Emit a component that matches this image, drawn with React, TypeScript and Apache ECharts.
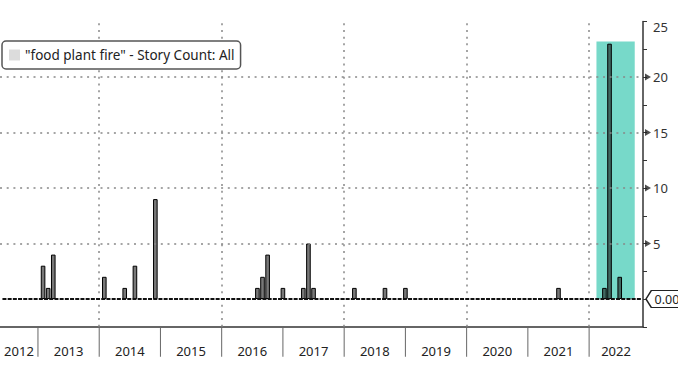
import React, { useEffect, useRef } from "react";
import * as echarts from "echarts";

const SERIES_NAME = '"food plant fire" - Story Count: All';

// Monthly story counts; each bar sits at the end of its month.
const barYears = [2013, 2013, 2013, 2014, 2014, 2014, 2014, 2016, 2016, 2016, 2016, 2017, 2017, 2017, 2018, 2018, 2018, 2021, 2022, 2022, 2022];
const barMonths = [1, 2, 3, 1, 5, 7, 11, 7, 8, 9, 12, 4, 5, 6, 2, 8, 12, 6, 3, 4, 6];
const barCounts = [3, 1, 4, 2, 1, 3, 9, 1, 2, 4, 1, 1, 5, 1, 1, 1, 1, 1, 1, 23, 2];

const yearLabels = [2012, 2013, 2014, 2015, 2016, 2017, 2018, 2019, 2020, 2021, 2022];
const verticalGridYears = [2014, 2016, 2018, 2020, 2022];
const horizontalGridValues = [5, 10, 15, 20];
const arrowTickValues = [5, 10, 15, 20];

const X_MIN = 2012.38;
const X_MAX = 2022.88;
const Y_MIN = -2.5;
const Y_MAX = 25;
const Y_INTERVAL = 2.5;

const zeroLineStart = 2012.42;
const zeroLineEnd = 2022.86;
const highlightStart = 2022.12;
const highlightEnd = 2022.745;
const highlightTop = 23.2;
const lastValue = 0;

const FONT = "'Noto Sans', 'DejaVu Sans', sans-serif";

export default function App() {
  const ref = useRef<HTMLDivElement>(null);

  useEffect(() => {
    if (!ref.current) return;
    const chart = echarts.init(ref.current, undefined, { renderer: "svg" });

    const barData = barYears.map((y, i) => [y + barMonths[i] / 12, barCounts[i]]);

    const option: any = {
      animation: false,
      backgroundColor: "#fff",
      grid: { left: 0, right: 35, top: 21.5, bottom: 54.25, containLabel: false },
      legend: {
        left: 2,
        top: 41,
        z: 20,
        zlevel: 0,
        data: [{ name: SERIES_NAME, icon: "rect", itemStyle: { color: "#dcdcdc", borderWidth: 0 } }],
        itemWidth: 11,
        itemHeight: 11,
        padding: [7, 6, 7, 7],
        borderColor: "#555",
        borderWidth: 1.5,
        borderRadius: 4,
        backgroundColor: "#fff",
        selectedMode: false,
        textStyle: { color: "#222", fontSize: 13.5, fontFamily: FONT },
      },
      xAxis: {
        type: "value",
        min: X_MIN,
        max: X_MAX,
        position: "bottom",
        axisLine: { show: true, onZero: false, lineStyle: { color: "#333", width: 1.5 } },
        axisTick: { show: false },
        axisLabel: { show: false },
        splitLine: { show: false },
      },
      yAxis: {
        type: "value",
        position: "right",
        min: Y_MIN,
        max: Y_MAX,
        interval: Y_INTERVAL,
        axisLine: { show: true, onZero: false, lineStyle: { color: "#333", width: 1.5 } },
        axisTick: { show: true, length: 4, lineStyle: { color: "#333", width: 1 } },
        splitLine: { show: false },
        axisLabel: {
          margin: 10,
          color: "#333",
          fontSize: 13,
          fontFamily: FONT,
          formatter: (v: number) => {
            if (v === Y_MAX) return "{top|" + v + "}";
            return v > 0 && v % 5 === 0 ? String(v) : "";
          },
          rich: { top: { padding: [11, 0, 0, 0], fontSize: 13, fontFamily: FONT, color: "#333" } },
        },
      },
      series: [
        {
          type: "line",
          data: [],
          z: 1,
          silent: true,
          markArea: {
            silent: true,
            itemStyle: { color: "#77d9c9", opacity: 1 },
            data: [[{ coord: [highlightStart, 0] }, { coord: [highlightEnd, highlightTop] }]],
          },
        },
        {
          type: "line",
          data: [],
          z: 2,
          silent: true,
          markLine: {
            silent: true,
            symbol: ["none", "none"],
            label: { show: false },
            lineStyle: { type: [2, 4.7], color: "#888", width: 1.5 },
            data: [
              ...horizontalGridValues.map((v) => ({ yAxis: v })),
              ...verticalGridYears.map((y) => ({ xAxis: y })),
              [
                { coord: [zeroLineStart, 0], lineStyle: { type: [4, 1.2], color: "#111", width: 2 } },
                { coord: [zeroLineEnd, 0] },
              ],
            ],
          },
        },
        {
          type: "bar",
          name: SERIES_NAME,
          data: barData,
          barWidth: 4.6,
          z: 3,
          itemStyle: { color: "rgba(30,30,30,0.6)", borderColor: "#000", borderWidth: 1 },
          markPoint: {
            silent: true,
            symbol: "path://M0,8 L6,0 L40,0 L40,16 L6,16 Z",
            symbolSize: [36, 17],
            symbolKeepAspect: false,
            symbolOffset: [21, 0],
            itemStyle: { color: "#fff", borderColor: "#222", borderWidth: 1.2 },
            label: {
              show: true,
              position: "inside",
              offset: [3, 0],
              color: "#222",
              fontSize: 12.5,
              fontFamily: FONT,
              formatter: (p: any) => Number(p.value).toFixed(2),
            },
            data: [{ coord: [X_MAX, lastValue], value: lastValue }],
          },
        },
        {
          type: "scatter",
          data: arrowTickValues.map((v) => [X_MAX, v]),
          symbol: "path://M0,0 L10,5 L0,10 Z",
          symbolSize: [6, 7],
          symbolOffset: [5, 0],
          itemStyle: { color: "#222" },
          silent: true,
          clip: false,
          z: 5,
        },
        {
          type: "custom",
          data: yearLabels.map((y) => [y, Y_MIN]),
          encode: { x: 0, y: 1 },
          clip: false,
          silent: true,
          z: 5,
          renderItem: (params: any, api: any) => {
            const y0 = api.value(0);
            const s = Math.max(y0, X_MIN);
            const e = Math.min(y0 + 1, X_MAX);
            const p1 = api.coord([s, Y_MIN]);
            const p2 = api.coord([e, Y_MIN]);
            const children: any[] = [
              {
                type: "text",
                x: (p1[0] + p2[0]) / 2,
                y: p1[1] + 24.5,
                style: {
                  text: String(y0),
                  align: "center",
                  verticalAlign: "middle",
                  fill: "#222",
                  fontSize: 13,
                  fontFamily: FONT,
                },
              },
            ];
            if (y0 > X_MIN) {
              const px = api.coord([y0, Y_MIN]);
              children.push({
                type: "line",
                shape: { x1: px[0], y1: p1[1], x2: px[0], y2: p1[1] + 30 },
                style: { stroke: "#666", lineWidth: 1 },
              });
            }
            return { type: "group", children };
          },
        },
      ],
    };

    chart.setOption(option);
    return () => chart.dispose();
  }, []);

  return (
    <div
      ref={ref}
      style={{ position: "fixed", left: 0, top: 0, width: 678, height: 381, background: "#fff" }}
    />
  );
}
